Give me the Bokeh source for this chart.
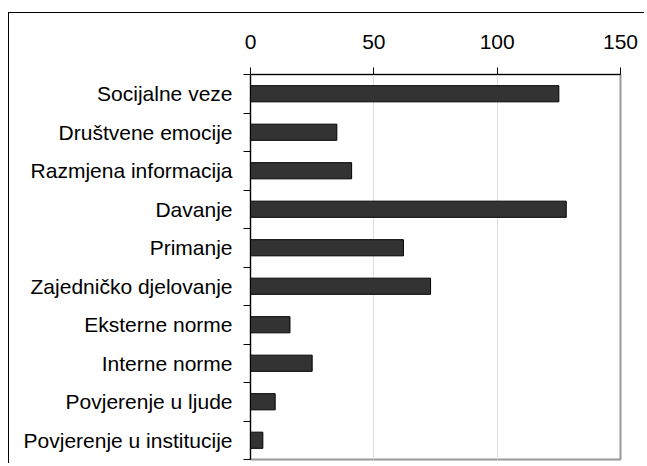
from bokeh.plotting import figure
from bokeh.models import Range1d, FixedTicker
from bokeh.embed import file_html
from bokeh.resources import INLINE

categories = ["Socijalne veze", "Društvene emocije", "Razmjena informacija", "Davanje",
              "Primanje", "Zajedničko djelovanje", "Eksterne norme", "Interne norme",
              "Povjerenje u ljude", "Povjerenje u institucije"]
values = [125, 35, 41, 128, 62, 73, 16, 25, 10, 5]
x_ticks = [0, 50, 100, 150]

n = len(categories)
ypos = [n - i - 0.5 for i in range(n)]

FONT = "Liberation Sans"

p = figure(width=636, height=451, output_backend="svg", toolbar_location=None,
           x_range=Range1d(0, 150), y_range=Range1d(0, n),
           x_axis_location="above", y_axis_location="left",
           min_border_left=241, min_border_right=25, min_border_top=61, min_border_bottom=5)
p.styles = {"margin-left": "8px", "margin-top": "12px",
            "border-left": "1px solid black", "border-top": "1px solid black"}

p.hbar(y=ypos, right=values, left=0, height=0.42, fill_color="#333333", line_color="#000000", line_width=1)

xa = p.xaxis[0]
xa.ticker = FixedTicker(ticks=x_ticks, minor_ticks=[])
xa.axis_line_color = "black"
xa.major_tick_line_color = "black"
xa.major_tick_out = 7
xa.major_tick_in = 0
xa.minor_tick_line_color = None
xa.major_label_text_font = FONT
xa.major_label_text_font_size = "21px"
xa.major_label_text_color = "black"
xa.major_label_standoff = 19

ya = p.yaxis[0]
ya.ticker = FixedTicker(ticks=ypos, minor_ticks=list(range(n + 1)))
ya.major_label_overrides = {y: c for y, c in zip(ypos, categories)}
ya.axis_line_color = "black"
ya.major_tick_line_color = None
ya.major_tick_out = 0
ya.major_tick_in = 0
ya.minor_tick_line_color = "black"
ya.minor_tick_out = 7
ya.minor_tick_in = 0
ya.major_label_text_font = FONT
ya.major_label_text_font_size = "21px"
ya.major_label_text_color = "black"
ya.major_label_standoff = 11

p.ygrid.grid_line_color = None
p.xgrid.ticker = FixedTicker(ticks=[50, 100])
p.xgrid.grid_line_color = "#dddddd"
p.xgrid.grid_line_width = 1

p.outline_line_color = "#999999"
p.outline_line_width = 2
p.background_fill_color = "white"
p.border_fill_color = "white"

open("out.html", "w").write(file_html(p, INLINE))
